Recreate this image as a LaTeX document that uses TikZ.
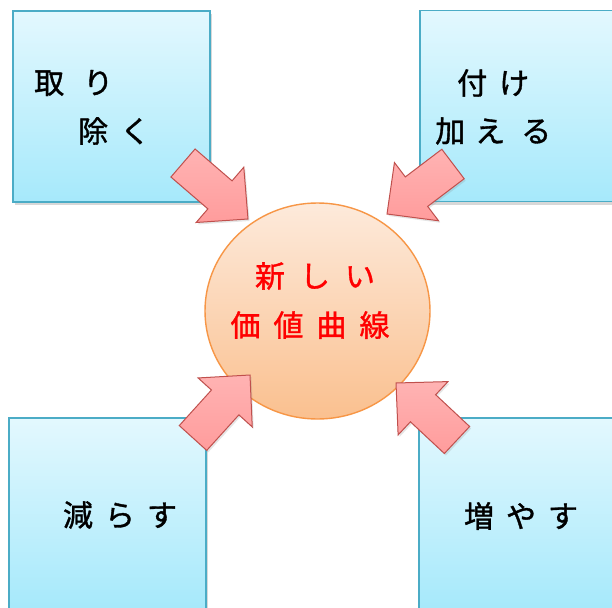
\documentclass[tikz,border=0pt]{standalone}
\usepackage{fontspec}
\setmainfont{Noto Sans CJK JP}
\newfontfamily\jpfont[FakeBold=1.2]{Noto Sans CJK JP}
\usetikzlibrary{calc,shapes.geometric,shadows}
\definecolor{boxtop}{HTML}{E3F8FE}
\definecolor{boxbot}{HTML}{A6E9FB}
\definecolor{boxline}{HTML}{4BACC6}
\definecolor{circtop}{HTML}{FDEADB}
\definecolor{circbot}{HTML}{FAC08F}
\definecolor{circline}{HTML}{F79646}
\definecolor{arrtop}{HTML}{FFB3B3}
\definecolor{arrbot}{HTML}{FF9C9C}
\definecolor{arrline}{HTML}{C0504D}
\definecolor{redtext}{HTML}{FF0000}
\tikzset{
  boxnode/.style={draw=boxline, line width=1.2pt, top color=boxtop, bottom color=boxbot,
    minimum width=197pt, minimum height=191pt, inner sep=0pt,
    drop shadow={shadow xshift=2pt, shadow yshift=-3pt, opacity=0.3}},
  centre/.style={ellipse, draw=circline, line width=1.4pt, top color=circtop, bottom color=circbot,
    minimum width=225pt, minimum height=216pt, inner sep=0pt},
  blockarrow/.style={draw=arrline, line width=1pt, top color=arrtop, bottom color=arrbot,
    drop shadow={shadow xshift=1.5pt, shadow yshift=-2pt, opacity=0.2}},
  label/.style={inner sep=0pt, font=\jpfont\fontsize{30pt}{35pt}\selectfont},
}
\newcommand\blockarrowdraw[2]{%
  \coordinate (n#1) at ($(#2)!37pt!(#1)$);
  \draw[blockarrow] ($(#1)!18.5pt!90:(#2)$) -- ($(n#1)!18.5pt!-90:(#1)$) -- ($(n#1)!36.5pt!-90:(#1)$) -- (#2)
    -- ($(n#1)!36.5pt!90:(#1)$) -- ($(n#1)!18.5pt!90:(#1)$) -- ($(#1)!18.5pt!-90:(#2)$) -- cycle;}
\begin{document}
\begin{tikzpicture}[x=1pt,y=-1pt]
\useasboundingbox (0,0) rectangle (612,607);
\clip (0,0) rectangle (612,607);
\fill[white] (0,0) rectangle (612,607);
% boxes
\node[boxnode] (tl) at (111.5,106.5) {};
\node[boxnode] (tr) at (518.5,106) {};
\node[boxnode] (bl) at (107.5,513.5) {};
\node[boxnode] (br) at (517.5,513.5) {};
% texts in boxes
\node[label, anchor=west] (t1) at (34,83) {取\hspace{19pt}り};
\node[label, anchor=west] (t2) at (78,131) {除\hspace{12pt}く};
\node[label, anchor=west] (t3) at (457,83) {付\hspace{12pt}け};
\node[label, anchor=west] (t4) at (435,131) {加\hspace{10pt}え\hspace{16pt}る};
\node[label] (t5) at (120,515) {減\hspace{12pt}ら\hspace{12pt}す};
\node[label] (t6) at (521,516) {増\hspace{12pt}や\hspace{12pt}す};
% centre
\node[centre] (c) at (317.5,311) {};
\node[label, text=redtext] (c1) at (315,276) {新\hspace{15pt}し\hspace{15pt}い};
\node[label, text=redtext] (c2) at (310,325) {価\hspace{13pt}値\hspace{13pt}曲\hspace{13pt}線};
% arrows
\coordinate (a1) at (183,163); \coordinate (h1) at (248,219);
\coordinate (a2) at (453,164); \coordinate (h2) at (387,214);
\coordinate (a3) at (193,438); \coordinate (h3) at (250,375);
\coordinate (a4) at (457,440); \coordinate (h4) at (396,383);
\blockarrowdraw{a1}{h1}
\blockarrowdraw{a2}{h2}
\blockarrowdraw{a3}{h3}
\blockarrowdraw{a4}{h4}
\end{tikzpicture}
\end{document}
